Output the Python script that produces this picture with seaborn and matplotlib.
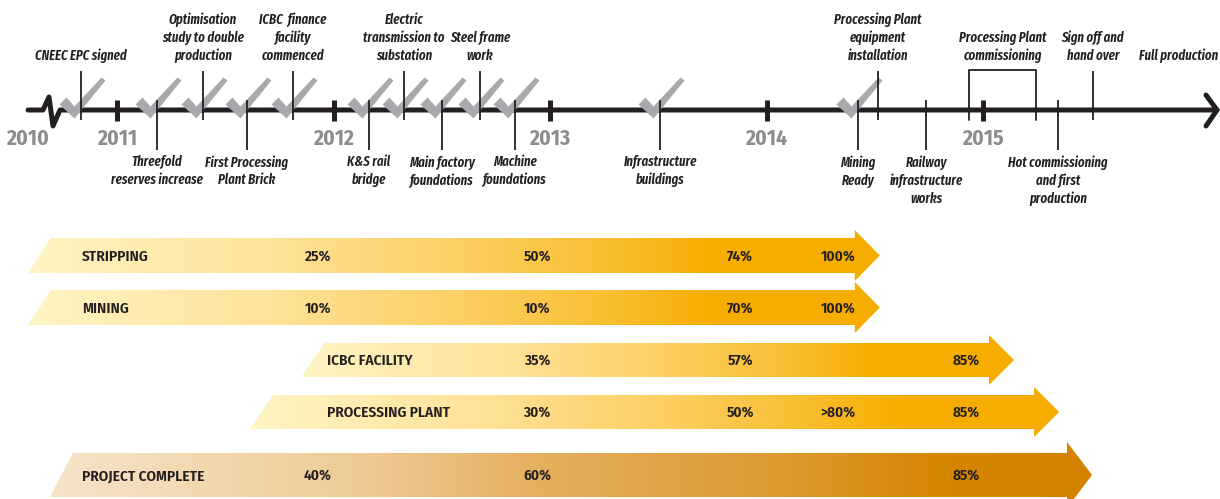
import numpy as np
import matplotlib
matplotlib.use("Agg")
import matplotlib.pyplot as plt
from matplotlib.path import Path
from matplotlib.patches import Polygon
from matplotlib.colors import LinearSegmentedColormap
import seaborn as sns
import pandas as pd

# ---------------- data ----------------
year_ticks = [2011, 2012, 2013, 2014, 2015]
start_year_label = "2010"

event_names = [
    "CNEEC EPC signed",
    "Threefold\nreserves increase",
    "Optimisation\nstudy to double\nproduction",
    "First Processing\nPlant Brick",
    "ICBC  finance\nfacility\ncommenced",
    "K&S rail\nbridge",
    "Electric\ntransmission to\nsubstation",
    "Main factory\nfoundations",
    "Steel frame\nwork",
    "Machine\nfoundations",
    "Infrastructure\nbuildings",
    "Mining\nReady",
    "Processing Plant\nequipment\ninstallation",
    "Railway\ninfrastructure\nworks",
    "Hot commissioning\nand first\nproduction",
    "Sign off and\nhand over",
]
event_x = [2010.834, 2011.185, 2011.397, 2011.600, 2011.813, 2012.164, 2012.326,
           2012.501, 2012.677, 2012.838, 2013.508, 2014.423, 2014.515, 2014.737,
           2015.346, 2015.508]
event_side = ["above", "below", "above", "below", "above", "below", "above",
              "below", "above", "below", "below", "below", "above", "below",
              "below", "above"]
event_done = [True, True, True, True, True, True, True, True, True, True, True,
              True, False, False, False, False]

commissioning_label = "Processing Plant\ncommissioning"
commissioning_start = 2014.935
commissioning_end = 2015.245

final_label = "Full production"
final_x = 2015.905

bar_names = ["STRIPPING", "MINING", "ICBC FACILITY", "PROCESSING PLANT", "PROJECT COMPLETE"]
bar_start = [2010.589, 2010.589, 2011.852, 2011.614, 2010.690]
bar_end = [2014.408, 2014.408, 2015.028, 2015.236, 2015.388]
bar_name_x = [2010.838, 2010.838, 2011.970, 2011.970, 2010.838]
milestone_x = [2011.928, 2012.940, 2013.878, 2014.330, 2014.921]
bar_values = [
    ["25%", "50%", "74%", "100%", ""],
    ["10%", "10%", "70%", "100%", ""],
    ["", "35%", "57%", "", "85%"],
    ["", "30%", "50%", ">80%", "85%"],
    ["40%", "60%", "", "", "85%"],
]

# ---------------- layout / style ----------------
PX = 1 / 216.5               # years per pixel
X0 = 2011 - 117 * PX
X1 = 2011 + (1220 - 117) * PX
LINE_Y = 110
DARK = "#231f20"
CHECK = "#a7a9ac"
YEAR_GREY = "#8d8d8d"

row_center = [255.5, 307.5, 360, 412, 475]
row_height = [35, 35, 34, 34, 44]
row_head = [25.5, 25.5, 25, 25, 33]

yellow = LinearSegmentedColormap.from_list(
    "yel", [(0.0, "#fff4c4"), (0.28, "#fee39a"), (0.5, "#fcd064"),
            (0.68, "#f9bf33"), (0.8, "#f6ae00"), (1.0, "#f6ad00")])
brown = LinearSegmentedColormap.from_list(
    "brn", [(0.0, "#f6e4c9"), (0.3, "#eecb95"), (0.46, "#e5b060"),
            (0.7, "#dc9a30"), (0.86, "#d58500"), (1.0, "#d38200")])
bar_cmaps = [yellow, yellow, yellow, yellow, brown]

sns.set_theme(style="white")
FAM = ["Fira Sans Condensed", "Barlow Semi Condensed", "Archivo Narrow", "DejaVu Sans"]
EV_FAM = ["Fira Sans Extra Condensed", "Fira Sans Condensed", "DejaVu Sans"]
plt.rcParams["font.family"] = FAM

EV_FS = 10
EV_LS = 1.32
fig = plt.figure(figsize=(12.2, 4.99), dpi=100)
ax = fig.add_axes([0, 0, 1, 1])
ax.set_axis_off()

# ---------------- timeline ----------------
tl_start = X0 + 28 * PX
brk = X0 + 43 * PX
zig_x = [tl_start, brk, brk + 6 * PX, brk + 10 * PX, brk + 17 * PX, X0 + 1213 * PX]
zig_y = [LINE_Y, LINE_Y, 97, 126, LINE_Y, LINE_Y]
sns.lineplot(x=zig_x, y=zig_y, sort=False, color=DARK, lw=3.6, ax=ax,
             estimator=None, zorder=3)
ch_x = [X0 + 1206 * PX, X0 + 1217 * PX, X0 + 1206 * PX]
ax.plot(ch_x, [95, LINE_Y, 126], color=DARK, lw=3.6, solid_joinstyle="miter", zorder=3)

ax.vlines(year_ticks, 100, 121, color=DARK, lw=3.6, zorder=3)
for yv in year_ticks:
    ax.text(yv, 139, str(yv), ha="center", va="center", fontsize=15.5,
            fontweight="bold", color=YEAR_GREY)
ax.text(X0 + 28 * PX, 139, start_year_label, ha="center", va="center",
        fontsize=15.5, fontweight="bold", color=YEAR_GREY)

ev = pd.DataFrame({"name": event_names, "x": event_x, "side": event_side,
                   "done": event_done})
ev_style = dict(fontsize=EV_FS, fontstyle="italic", fontweight="semibold",
                color=DARK, linespacing=EV_LS, family=EV_FAM)
for _, r in ev.iterrows():
    if r.side == "above":
        ax.vlines(r.x, 71, 120, color=DARK, lw=1.3, zorder=4)
        ax.text(r.x, 63, r["name"], ha="center", va="bottom", **ev_style)
    else:
        ax.vlines(r.x, 100, 150, color=DARK, lw=1.3, zorder=4)
        ax.text(r.x, 155, r["name"], ha="center", va="top", **ev_style)

ax.plot([commissioning_start, commissioning_start, commissioning_end, commissioning_end],
        [120, 70, 70, 120], color=DARK, lw=1.3, zorder=4)
ax.text((commissioning_start + commissioning_end) / 2, 63, commissioning_label,
        ha="center", va="bottom", **ev_style)
ax.text(final_x, 63, final_label, ha="center", va="bottom", **ev_style)

# check marks (custom marker, origin at the event line on the timeline)
check_verts = [(-22, 6), (-15, 13), (-7, 4), (20, 33), (24, 30), (-7, -8), (-22, 6)]
check_path = Path(check_verts, [Path.MOVETO] + [Path.LINETO] * 5 + [Path.CLOSEPOLY])
done = ev[ev.done]
sns.scatterplot(x=done.x.values, y=np.full(len(done), LINE_Y), marker=check_path,
                s=(33 * 2 * 0.72) ** 2, color=CHECK, linewidth=0, ax=ax, zorder=3.5,
                legend=False)

# ---------------- progress arrows ----------------
grad = np.linspace(0, 1, 512).reshape(1, -1)
slant = 23 * PX
head_len = 25 * PX
for i, name in enumerate(bar_names):
    yc, h, hh = row_center[i], row_height[i], row_head[i]
    top, bot = yc - h / 2, yc + h / 2
    x0, x1 = bar_start[i], bar_end[i]
    verts = [(x0, bot), (x0 + slant, top), (x1, top), (x1, yc - hh),
             (x1 + head_len, yc), (x1, yc + hh), (x1, bot)]
    poly = Polygon(verts, closed=True, facecolor="none", edgecolor="none")
    ax.add_patch(poly)
    im = ax.imshow(grad, cmap=bar_cmaps[i], aspect="auto", interpolation="bilinear",
                   extent=(x0, x1 + head_len, yc + hh, yc - hh), zorder=1)
    im.set_clip_path(poly)
    ax.text(bar_name_x[i], yc + 1, name, ha="left", va="center", fontsize=11,
            fontweight="semibold", color=DARK, zorder=5)
    for mx, val in zip(milestone_x, bar_values[i]):
        if val:
            ax.text(mx, yc + 1, val, ha="center", va="center", fontsize=11,
                    fontweight="semibold", color=DARK, zorder=5)

ax.set_xlim(X0, X1)
ax.set_ylim(499, 0)
fig.savefig("out.png", dpi=100)
